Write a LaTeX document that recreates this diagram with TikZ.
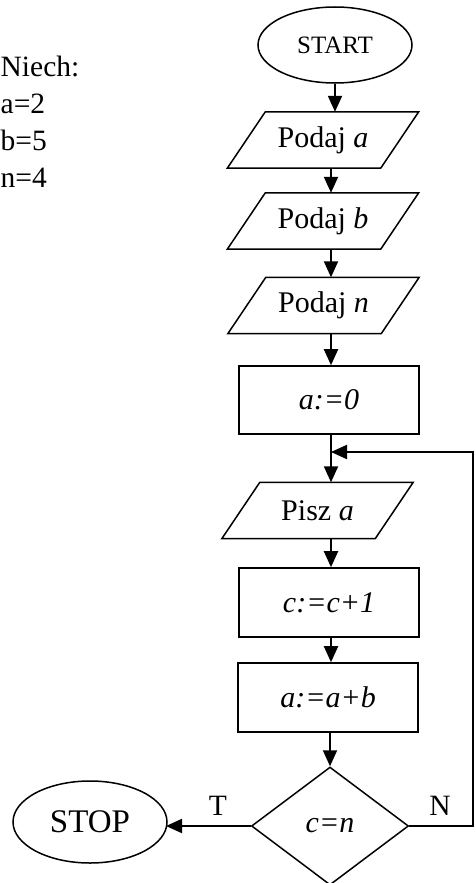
\documentclass[tikz,border=0pt]{standalone}
\usepackage{fontspec}
\setmainfont{Liberation Serif}
\usetikzlibrary{shapes.geometric,arrows.meta,calc}
\begin{document}
\begin{tikzpicture}[x=1pt,y=-1pt,
  txt/.style={font=\fontsize{29.5}{34}\selectfont, inner sep=0pt},
  oval/.style={draw, ellipse, line width=1.5pt, inner sep=0pt},
  procbox/.style={draw, rectangle, line width=1.6pt, minimum width=180pt, minimum height=68pt, inner sep=0pt, font=\fontsize{30}{34}\selectfont},
  iobox/.style={rectangle, minimum width=191pt, minimum height=56pt, inner sep=0pt, font=\fontsize{30}{34}\selectfont},
  iodraw/.style={line width=1.5pt, line join=miter},
  decbox/.style={draw, diamond, line width=1.5pt, minimum width=157pt, minimum height=118pt, inner sep=0pt, font=\fontsize{30}{34}\selectfont},
  arr/.style={line width=2pt, -{Triangle[length=16pt,width=14pt]}},
  plainline/.style={line width=2pt}
]
\useasboundingbox (0,0) rectangle (475,883);
\clip (0,0) rectangle (475,883);

% left text
\node[txt, anchor=base west] (t1) at (0.5,77) {Niech:};
\node[txt, anchor=base west] (t2) at (0.5,113) {a=2};
\node[txt, anchor=base west] (t3) at (0.5,150) {b=5};
\node[txt, anchor=base west] (t4) at (0.5,187) {n=4};

\coordinate (col) at (331,0);

\node[oval, minimum width=154pt, minimum height=76pt, font=\fontsize{25}{28}\selectfont] (start) at (335,45) {START};

\node[iobox] (pa) at (323,140) {Podaj \textit{a}};
\node[iobox] (pb) at (323,221) {Podaj \textit{b}};
\node[iobox] (pn) at (323.5,305.5) {Podaj \textit{n}};
\node[procbox] (a0) at (329,400) {\textit{a:=0}};
\node[iobox] (pisz) at (317.5,510.5) {Pisz \textit{a}};
\node[procbox, minimum height=69pt] (c1) at (329,602.5) {\textit{c:=c+1}};
\node[procbox, minimum height=69pt] (ab) at (328,697.5) {\textit{a:=a+b}};
\node[decbox] (dec) at (330,826) {\textit{c=n}};
\node[oval, minimum width=154pt, minimum height=82pt, font=\fontsize{33}{36}\selectfont] (stop) at (90,822) {STOP};

\node[txt] (lt) at (218,806) {T};
\node[txt] (ln) at (440,806) {N};

% parallelograms
\foreach \n in {pa,pb,pn,pisz}{
  \draw[iodraw] (\n.south west) -- ($(\n.south east)+(-38,0)$) -- (\n.north east) -- ($(\n.north west)+(38,0)$) -- cycle;
}

% connectors
\draw[arr] (start.south) -- (start.south |- pa.north);
\draw[arr] (pa.south -| col) -- (pb.north -| col);
\draw[arr] (pb.south -| col) -- (pn.north -| col);
\draw[arr] (pn.south -| col) -- (a0.north -| col);
\coordinate (join) at (331,452);
\draw[plainline] (a0.south -| col) -- (join);
\draw[arr] (join) -- (pisz.north -| col);
\draw[arr] (pisz.south -| col) -- (c1.north -| col);
\draw[arr] (c1.south -| col) -- (ab.north -| col);
\draw[arr] (ab.south -| dec) -- (dec.north);
\coordinate (rc) at (473,826);
\coordinate (rt) at (473,452);
\draw[arr] (dec.east) -- (rc) -- (rt) -- (join);
\coordinate (stopr) at (166,826);
\draw[arr] (dec.west) -- (stopr);
\end{tikzpicture}
\end{document}
